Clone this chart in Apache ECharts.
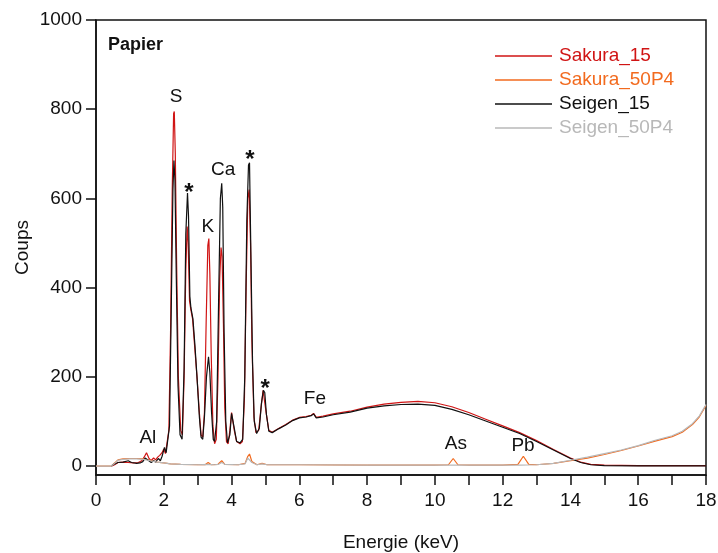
<!DOCTYPE html>
<html>
<head>
<meta charset="utf-8">
<script src="https://cdn.jsdelivr.net/npm/echarts@6/dist/echarts.min.js"></script>
<style>
html, body { margin: 0; padding: 0; background: #fff; }
#chart { width: 718px; height: 553px; }
</style>
</head>
<body>
<div id="chart"></div>
<script>
// spectra, [energy keV, counts]
var sakura15 = [
	[0.45,0],[0.55,3],[0.65,8],[0.8,9],[0.95,8],[1.1,7],[1.25,8],[1.35,12],[1.42,20],[1.49,30],[1.56,18],
	[1.62,12],[1.7,18],[1.76,14],[1.82,20],[1.88,24],[1.95,30],[2.0,38],[2.05,28],[2.1,30],[2.15,80],
	[2.2,300],[2.25,620],[2.29,790],[2.31,795],[2.34,700],[2.38,450],[2.43,200],[2.5,80],[2.55,70],
	[2.6,200],[2.65,440],[2.69,537],[2.72,500],[2.76,370],[2.8,350],[2.85,330],[2.92,260],[2.98,200],
	[3.05,120],[3.1,70],[3.15,65],[3.2,120],[3.25,320],[3.3,495],[3.33,510],[3.36,430],[3.4,250],
	[3.45,90],[3.5,50],[3.55,60],[3.6,200],[3.65,420],[3.69,490],[3.72,470],[3.76,320],[3.8,130],
	[3.85,55],[3.9,50],[3.95,80],[4.0,120],[4.03,118],[4.08,80],[4.15,55],[4.25,50],[4.32,55],
	[4.38,150],[4.43,400],[4.48,600],[4.52,620],[4.56,500],[4.6,280],[4.66,110],[4.72,75],[4.8,80],
	[4.87,130],[4.93,170],[4.97,168],[5.02,120],[5.1,80],[5.2,76],[5.4,85],[5.6,93],[5.8,103],[6.0,109],
	[6.2,111],[6.35,114],[6.42,118],[6.5,109],[6.7,112],[7.0,117],[7.5,123],[8.0,132],[8.5,139],
	[9.0,143],[9.5,145],[10.0,142],[10.5,133],[11.0,120],[11.5,105],[12.0,90],[12.5,75],[13.0,57],
	[13.5,37],[14.0,18],[14.3,9],[14.6,4],[15.0,2],[16,1],[17,1],[18,1]
];
var sakura50P4 = [
	[0,0],[0.45,0],[0.55,7],[0.65,14],[0.8,16],[1.0,17],[1.2,17],[1.4,16],[1.6,13],[1.8,9],[2.0,7],
	[2.2,5],[2.5,4],[3.0,3],[3.22,3],[3.31,8],[3.4,3],[3.6,4],[3.71,12],[3.8,4],[4.2,3],[4.4,6],
	[4.48,22],[4.53,27],[4.6,10],[4.75,3],[4.9,6],[4.95,7],[5.05,3],[6,3],[8,2],[10,2],[10.4,3],
	[10.54,17],[10.68,3],[11,2],[12,2],[12.45,4],[12.61,22],[12.77,4],[13,3],[13.5,6],[14,12],
	[14.5,18],[15,26],[15.5,35],[16,45],[16.5,56],[17,66],[17.3,76],[17.6,93],[17.8,110],[18,136]
];
var seigen15 = [
	[0.45,0],[0.55,5],[0.65,8],[0.8,9],[0.95,12],[1.05,8],[1.2,6],[1.3,7],[1.38,10],[1.45,18],[1.5,22],
	[1.56,12],[1.63,8],[1.7,12],[1.76,9],[1.84,17],[1.9,12],[1.95,22],[2.02,42],[2.07,30],[2.12,28],
	[2.17,90],[2.22,350],[2.27,620],[2.3,685],[2.33,640],[2.37,420],[2.42,180],[2.48,70],[2.54,60],
	[2.6,220],[2.65,520],[2.7,612],[2.73,560],[2.77,380],[2.8,355],[2.86,330],[2.92,270],[2.98,200],
	[3.05,110],[3.1,65],[3.15,60],[3.2,110],[3.26,200],[3.32,245],[3.36,210],[3.41,120],[3.46,60],
	[3.5,55],[3.56,100],[3.62,380],[3.67,600],[3.71,634],[3.74,580],[3.78,300],[3.83,100],[3.88,52],
	[3.95,70],[4.0,118],[4.03,122],[4.08,85],[4.15,55],[4.25,52],[4.33,60],[4.39,200],[4.45,550],
	[4.5,675],[4.53,680],[4.57,480],[4.62,230],[4.67,100],[4.74,73],[4.82,85],[4.88,140],[4.94,170],
	[4.98,165],[5.03,115],[5.1,78],[5.2,75],[5.4,84],[5.6,92],[5.8,102],[6.0,108],[6.2,110],[6.35,113],
	[6.42,117],[6.5,108],[6.7,110],[7.0,115],[7.5,121],[8.0,130],[8.5,135],[9.0,138],[9.5,139],
	[10.0,136],[10.5,127],[11.0,115],[11.5,101],[12.0,87],[12.5,73],[13.0,55],[13.5,36],[14.0,17],
	[14.3,8],[14.6,3],[15.0,1],[16,0.5],[17,0.5],[18,0.5]
];
var seigen50P4 = [
	[0,0],[0.45,0],[0.55,6],[0.65,13],[0.8,15],[1.0,16],[1.2,16],[1.4,15],[1.6,12],[1.8,9],[2.0,7],
	[2.2,5],[2.5,4],[3.0,3],[3.3,4],[3.5,3],[3.62,4],[3.71,8],[3.8,4],[4.2,3],[4.4,5],[4.48,18],
	[4.53,21],[4.6,8],[4.75,3],[4.9,5],[4.95,6],[5.05,3],[6,3],[8,2],[10,2],[11,2],[12,2],[12.5,2],
	[13,3],[13.5,6],[14,13],[14.5,20],[15,28],[15.5,36],[16,46],[16.5,58],[17,68],[17.3,78],
	[17.6,95],[17.8,112],[18,138]
];

var seriesNames = ['Sakura_15', 'Sakura_50P4', 'Seigen_15', 'Seigen_50P4'];
var seriesColors = ['#d01414', '#f26a1e', '#111111', '#b8b8b8'];

// element labels and peak stars, [energy, counts, text]
var peakLabels = [
	[2.36, 827, 'S'], [3.30, 536, 'K'], [3.75, 664, 'Ca'], [1.53, 63, 'Al'],
	[6.46, 150, 'Fe'], [10.62, 49, 'As'], [12.60, 45, 'Pb']
];
var starLabels = [[2.74, 612, '*'], [4.54, 686, '*'], [4.99, 172, '*']];

var yTicks = [0, 200, 400, 600, 800, 1000];
var xLabels = [0, 2, 4, 6, 8, 10, 12, 14, 16, 18];

var font = 'Arial, "Liberation Sans", sans-serif';

function lineSeries(i, data) {
	return {
		name: seriesNames[i],
		type: 'line',
		data: data,
		showSymbol: false,
		symbol: 'none',
		lineStyle: { color: seriesColors[i], width: 1.2 },
		itemStyle: { color: seriesColors[i] },
		z: 2 + i
	};
}

function labelSeries(data, size, bold) {
	return {
		type: 'scatter',
		data: data,
		symbolSize: 0,
		silent: true,
		z: 10,
		itemStyle: { opacity: 1 },
		label: {
			show: true,
			position: 'inside',
			formatter: function(p) { return p.data[2]; },
			fontFamily: font,
			fontSize: size,
			fontWeight: bold ? 'bold' : 'normal',
			color: '#111',
			opacity: 1
		}
	};
}

var chart = echarts.init(document.getElementById('chart'), null, { renderer: 'canvas' });

var legendData = [];
for (var i = 0; i < seriesNames.length; i++) {
	legendData.push({ name: seriesNames[i], textStyle: { color: seriesColors[i] } });
}

chart.setOption({
	animation: false,
	grid: {
		left: 96, right: 12, top: 20, bottom: 78,
		outerBoundsMode: 'none',
		containLabel: false,
		show: true, borderColor: '#111', borderWidth: 1.5, backgroundColor: 'transparent'
	},
	title: {
		text: 'Papier',
		left: 103, top: 31,
		textStyle: { fontFamily: font, fontSize: 18, fontWeight: 'bold', color: '#111' }
	},
	legend: {
		data: legendData,
		orient: 'vertical',
		left: 490, top: 41,
		icon: 'rect',
		itemWidth: 57, itemHeight: 1.5,
		itemGap: 4,
		textStyle: { fontFamily: font, fontSize: 19, lineHeight: 20, padding: [0, 0, 0, 2] },
		selectedMode: false
	},
	xAxis: {
		type: 'value',
		min: 0, max: 18, interval: 1,
		name: 'Energie (keV)',
		nameLocation: 'middle',
		nameGap: 58,
		nameMoveOverlap: false,
		nameTextStyle: { fontFamily: font, fontSize: 19, color: '#111' },
		axisLine: { show: true, onZero: false, lineStyle: { color: '#111', width: 1.5 } },
		axisTick: { show: true, inside: false, length: 10, lineStyle: { color: '#111', width: 1.5 } },
		axisLabel: {
			customValues: xLabels, margin: 16,
			fontFamily: font, fontSize: 19, color: '#111'
		},
		splitLine: { show: false }
	},
	yAxis: {
		type: 'value',
		min: -20, max: 1000,
		name: 'Coups',
		nameLocation: 'middle',
		nameGap: 64,
		nameRotate: 90,
		nameMoveOverlap: false,
		nameTextStyle: { fontFamily: font, fontSize: 19, color: '#111' },
		axisLine: { show: true, onZero: false, lineStyle: { color: '#111', width: 1.5 } },
		axisTick: { show: true, customValues: yTicks, length: 10, lineStyle: { color: '#111', width: 1.5 } },
		axisLabel: {
			customValues: yTicks, margin: 14,
			formatter: function(v) { return String(v); },
			fontFamily: font, fontSize: 19, color: '#111'
		},
		splitLine: { show: false }
	},
	series: [
		lineSeries(0, sakura15),
		lineSeries(1, sakura50P4),
		lineSeries(2, seigen15),
		lineSeries(3, seigen50P4),
		labelSeries(peakLabels, 19, false),
		labelSeries(starLabels, 24, true)
	]
});
</script>
</body>
</html>
